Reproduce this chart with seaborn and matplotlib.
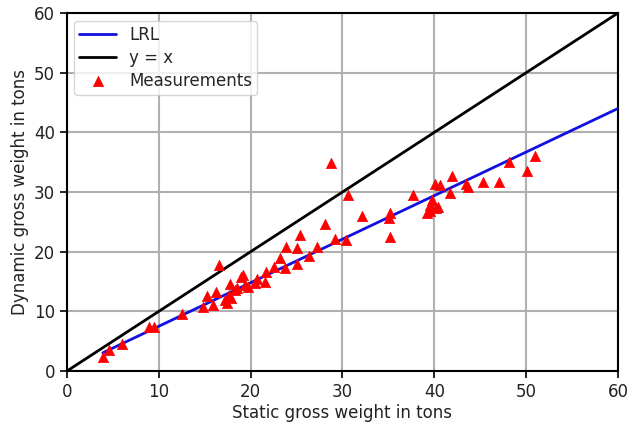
import numpy as np
import pandas as pd
import matplotlib
matplotlib.use("Agg")
import matplotlib.pyplot as plt
import seaborn as sns

# Static vs dynamic gross weight measurements (tons)
static_weight = [3.9, 4.6, 5.95, 8.9, 9.5, 12.5, 16.6, 14.8, 15.2, 15.9, 16.2, 17.2, 17.4,
                 17.7, 17.6, 18.3, 17.9, 18.5, 19.0, 19.2, 19.4, 19.7, 20.5, 20.7, 21.6,
                 21.7, 22.5, 23.2, 23.7, 23.8, 25.0, 25.0, 25.4, 26.3, 27.2, 28.1, 28.8,
                 29.2, 30.4, 30.6, 32.1, 35.1, 35.2, 35.2, 37.7, 39.2, 39.5, 39.5, 39.7,
                 40.1, 40.2, 40.4, 40.6, 41.7, 41.9, 43.5, 43.7, 45.3, 47.0, 48.1, 50.1, 51.0]
dynamic_weight = [2.4, 3.6, 4.6, 7.3, 7.3, 9.6, 17.8, 10.8, 12.5, 11.1, 13.3, 11.9, 11.4,
                  14.5, 12.8, 13.6, 12.2, 13.9, 15.8, 16.1, 14.4, 14.1, 14.7, 15.5, 14.9,
                  16.6, 17.5, 18.9, 17.2, 20.8, 20.6, 18.0, 22.8, 19.2, 20.7, 24.6, 34.9,
                  22.2, 22.0, 29.5, 26.0, 25.6, 26.4, 22.5, 29.5, 26.5, 26.8, 27.8, 28.6,
                  31.4, 27.3, 27.5, 31.2, 29.8, 32.6, 31.4, 30.9, 31.7, 31.7, 35.0, 33.6, 36.0]

# Linear regression line (LRL) parameters and extent
lrl_slope = 0.73
lrl_intercept = 0.2
lrl_x = [3.9, 60.0]
identity_x = [0.0, 60.0]

df = pd.DataFrame({"static": static_weight, "dynamic": dynamic_weight})
lrl = pd.DataFrame({"x": lrl_x, "y": [lrl_slope * v + lrl_intercept for v in lrl_x]})
ident = pd.DataFrame({"x": identity_x, "y": identity_x})

sns.set_theme(style="ticks")
plt.rcParams["font.family"] = ["DejaVu Sans"]

fig = plt.figure(figsize=(6.29, 4.24), dpi=100)
ax = fig.add_axes([0.1065, 0.125, 0.876, 0.8443])

sns.lineplot(data=lrl, x="x", y="y", ax=ax, color="#1010e0", linewidth=2, label="LRL", zorder=3)
sns.lineplot(data=ident, x="x", y="y", ax=ax, color="black", linewidth=2, label="y = x", zorder=3)
sns.scatterplot(data=df, x="static", y="dynamic", ax=ax, marker="^", color="red",
                s=55, edgecolor="red", linewidth=0.5, label="Measurements", zorder=4)

ax.set_xlim(0, 60)
ax.set_ylim(0, 60)
ax.set_xticks(range(0, 61, 10))
ax.set_yticks(range(0, 61, 10))
ax.grid(True, color="#b0b0b0", linewidth=1.5)
ax.set_axisbelow(True)
for s in ax.spines.values():
    s.set_color("black")
    s.set_linewidth(1.5)
ax.tick_params(axis="both", labelsize=12, color="black", width=1.2, length=5, labelcolor="#222222")
ax.set_xlabel("Static gross weight in tons", fontsize=12, color="#222222", labelpad=2)
ax.set_ylabel("Dynamic gross weight in tons", fontsize=12, color="#222222")

leg = ax.legend(loc="upper left", fontsize=12, frameon=True, framealpha=0.8,
                edgecolor="#cccccc", fancybox=True, labelspacing=0.3, borderpad=0.3,
                handlelength=2.2, bbox_to_anchor=(0.0, 1.0), borderaxespad=0.45)

fig.savefig("out.png", dpi=100)
